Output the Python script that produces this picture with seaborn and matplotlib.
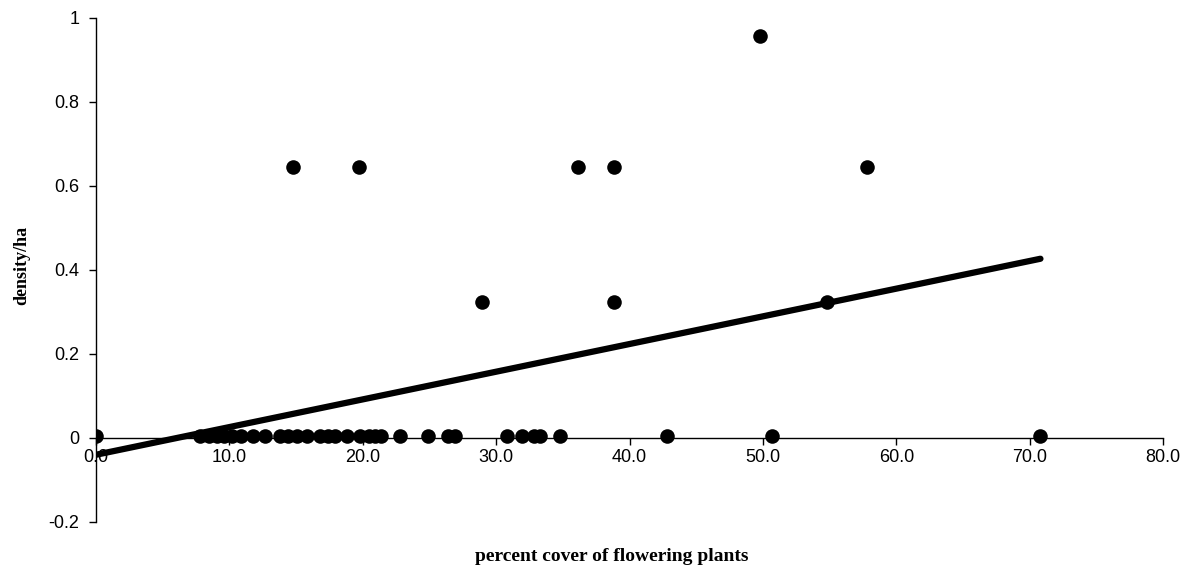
import numpy as np
import pandas as pd
import matplotlib
matplotlib.use("Agg")
import matplotlib.pyplot as plt
import seaborn as sns

# Data
zero_cover = [0.0, 7.8, 8.5, 9.1, 9.6, 10.2, 10.9, 11.8, 12.7, 13.8, 14.4, 15.1, 15.8,
              16.8, 17.4, 17.9, 18.8, 19.8, 20.5, 20.9, 21.4, 22.8, 24.9, 26.4, 26.9,
              30.8, 31.9, 32.8, 33.3, 34.8, 42.8, 50.7, 70.8]
zero_density = [0.005] * len(zero_cover)
pos_cover = [14.8, 19.7, 28.9, 36.1, 38.8, 38.8, 49.8, 54.8, 57.8]
pos_density = [0.645, 0.645, 0.323, 0.645, 0.645, 0.323, 0.957, 0.323, 0.645]

x_ticks = [0, 10, 20, 30, 40, 50, 60, 70, 80]
y_ticks = [-0.2, 0, 0.2, 0.4, 0.6, 0.8, 1.0]
y_tick_labels = ["-0.2", "0", "0.2", "0.4", "0.6", "0.8", "1"]

df = pd.DataFrame({
    "cover": zero_cover + pos_cover,
    "density": zero_density + pos_density,
})

sns.set_theme(style="white")
plt.rcParams["font.family"] = ["Liberation Sans", "DejaVu Sans"]

fig = plt.figure(figsize=(11.93, 5.78), dpi=100)
ax = fig.add_axes([0.0805, 0.097, 0.8945, 0.872])

sns.regplot(data=df, x="cover", y="density", ci=None, ax=ax,
            scatter_kws=dict(s=110, color="black", edgecolor="black", linewidths=0,
                             alpha=1.0, zorder=3),
            line_kws=dict(color="black", linewidth=4.5, zorder=2))

ax.set_xlim(0, 80)
ax.set_ylim(-0.2, 1.0)
ax.set_xticks(x_ticks)
ax.set_xticklabels([f"{v:.1f}" for v in x_ticks])
ax.set_yticks(y_ticks)
ax.set_yticklabels(y_tick_labels)

for s in ["top", "right"]:
    ax.spines[s].set_visible(False)
ax.spines["bottom"].set_position(("data", 0))
for s in ["left", "bottom"]:
    ax.spines[s].set_color("black")
    ax.spines[s].set_linewidth(1.0)

ax.tick_params(axis="both", which="major", direction="out", length=5, width=1,
               color="black", labelsize=13, labelcolor="black", bottom=True, left=True)
ax.tick_params(axis="x", pad=3)
ax.tick_params(axis="y", pad=7)

ax.set_xlabel("percent cover of flowering plants", fontfamily="Liberation Serif",
              fontweight="bold", fontsize=14, color="black")
ax.set_ylabel("density/ha", fontfamily="Liberation Serif", fontweight="bold",
              fontsize=13, color="black")
ax.xaxis.set_label_coords(612 / 1193, 1 - 548 / 578, transform=fig.transFigure)
ax.yaxis.set_label_coords(30 / 1193, 1 - 265 / 578, transform=fig.transFigure)

fig.savefig("out.png", dpi=100)
